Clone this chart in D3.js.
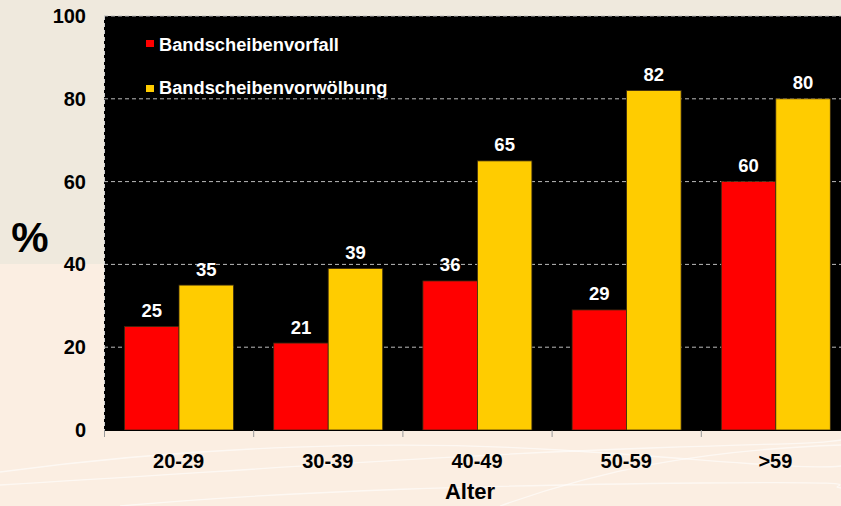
<!DOCTYPE html>
<html><head><meta charset="utf-8">
<script src="https://cdn.jsdelivr.net/npm/d3@7"></script>
<style>body{margin:0;overflow:hidden}svg{display:block;font-family:Arial,"Liberation Sans",sans-serif;font-weight:bold}</style>
</head><body><svg id="c" width="841" height="506"></svg>
<script>
const categories = ["20-29","30-39","40-49","50-59",">59"];
const seriesNames = ["Bandscheibenvorfall","Bandscheibenvorwölbung"];
const vorfall = [25,21,36,29,60];
const vorwoelbung = [35,39,65,82,80];
const yTicks = [0,20,40,60,80,100];
const colors = ["#ff0000","#ffcc00"];

const svg = d3.select("#c");
const W = 841, H = 506;
const FF = "Arial,'Liberation Sans',sans-serif";
// background
svg.append("rect").attr("width",W).attr("height",H).attr("fill","#fbeee2");
svg.append("rect").attr("width",W).attr("height",264).attr("fill","#efe9dd");
// decorative curves
const curves = svg.append("g").attr("fill","none").attr("stroke","#ffffff").attr("stroke-opacity",0.6).attr("stroke-width",1.3);
curves.append("path").attr("d","M0,472 C200,445 400,440 560,450 S800,470 841,466");
curves.append("path").attr("d","M0,485 C250,470 450,455 650,448 S800,445 841,440");
curves.append("path").attr("d","M120,506 C300,490 500,485 700,483 S820,486 841,488");
curves.append("path").attr("d","M500,506 C600,470 700,450 841,445");

const pL = 104, pR = 850, pT = 16, pB = 430;
const x = d3.scaleBand().domain(categories).range([pL,pR]);
const y = d3.scaleLinear().domain([0,100]).range([pB,pT]);

svg.append("rect").attr("x",pL).attr("y",pT).attr("width",pR-pL).attr("height",pB-pT).attr("fill","#000");

// grid
svg.append("g").selectAll("line").data(yTicks.filter(d=>d>0)).join("line")
  .attr("x1",pL).attr("x2",pR).attr("y1",d=>y(d)).attr("y2",d=>y(d))
  .attr("stroke","#bbbbbb").attr("stroke-width",1).attr("stroke-dasharray","4,3");
// left dashed border
svg.append("line").attr("x1",pL+0.5).attr("x2",pL+0.5).attr("y1",pT).attr("y2",pB)
  .attr("stroke","#cccccc").attr("stroke-dasharray","4,3");

const series = [vorfall, vorwoelbung];
const off = 20.5, bw = 54.5;
series.forEach((vals,si)=>{
  const g = svg.append("g");
  g.selectAll("rect").data(categories).join("rect")
    .attr("x",(c)=>x(c)+off+si*bw).attr("y",(c,i)=>y(vals[i]))
    .attr("width",bw).attr("height",(c,i)=>pB-y(vals[i]))
    .attr("fill",colors[si]).attr("stroke","#3a2a10").attr("stroke-width",0.8);
  g.selectAll("text").data(categories).join("text")
    .attr("x",(c)=>x(c)+off+si*bw+bw/2).attr("y",(c,i)=>y(vals[i])-9.5)
    .attr("text-anchor","middle").attr("fill","#fff").attr("font-size",18.5)
    .text((c,i)=>vals[i]);
});

// x axis
const xa = svg.append("g").attr("transform",`translate(0,${pB})`)
  .call(d3.axisBottom(x).tickSize(0).tickPadding(22));
xa.select(".domain").remove();
xa.selectAll("text").attr("dy",null).attr("y",37.5).attr("font-size",20).attr("fill","#000").attr("font-weight","bold").attr("font-family",FF);
svg.append("line").attr("x1",pL).attr("x2",W).attr("y1",pB+0.5).attr("y2",pB+0.5).attr("stroke","#000").attr("stroke-width",1.2);
svg.append("g").selectAll("line").data(categories).join("line")
  .attr("x1",c=>x(c)+0.5).attr("x2",c=>x(c)+0.5).attr("y1",pB).attr("y2",pB+7).attr("stroke","#999");

// y axis labels
const ya = svg.append("g").attr("transform",`translate(${pL},0)`)
  .call(d3.axisLeft(y).tickValues(yTicks).tickSize(0).tickPadding(18));
ya.select(".domain").remove();
ya.selectAll("text").attr("font-size",20).attr("fill","#000").attr("font-weight","bold").attr("font-family",FF);

svg.append("text").attr("x",30).attr("y",252).attr("text-anchor","middle").attr("font-size",42).attr("fill","#000").text("%");
svg.append("text").attr("x",470).attr("y",499).attr("text-anchor","middle").attr("font-size",22).attr("fill","#000").text("Alter");

// legend
const lg = svg.append("g");
seriesNames.forEach((n,i)=>{
  lg.append("rect").attr("x",146).attr("y",40+i*45).attr("width",8).attr("height",7).attr("fill",colors[i]);
  lg.append("text").attr("x",159).attr("y",51+i*43).attr("font-size",18.3).attr("fill","#fff").text(n);
});
</script></body></html>
